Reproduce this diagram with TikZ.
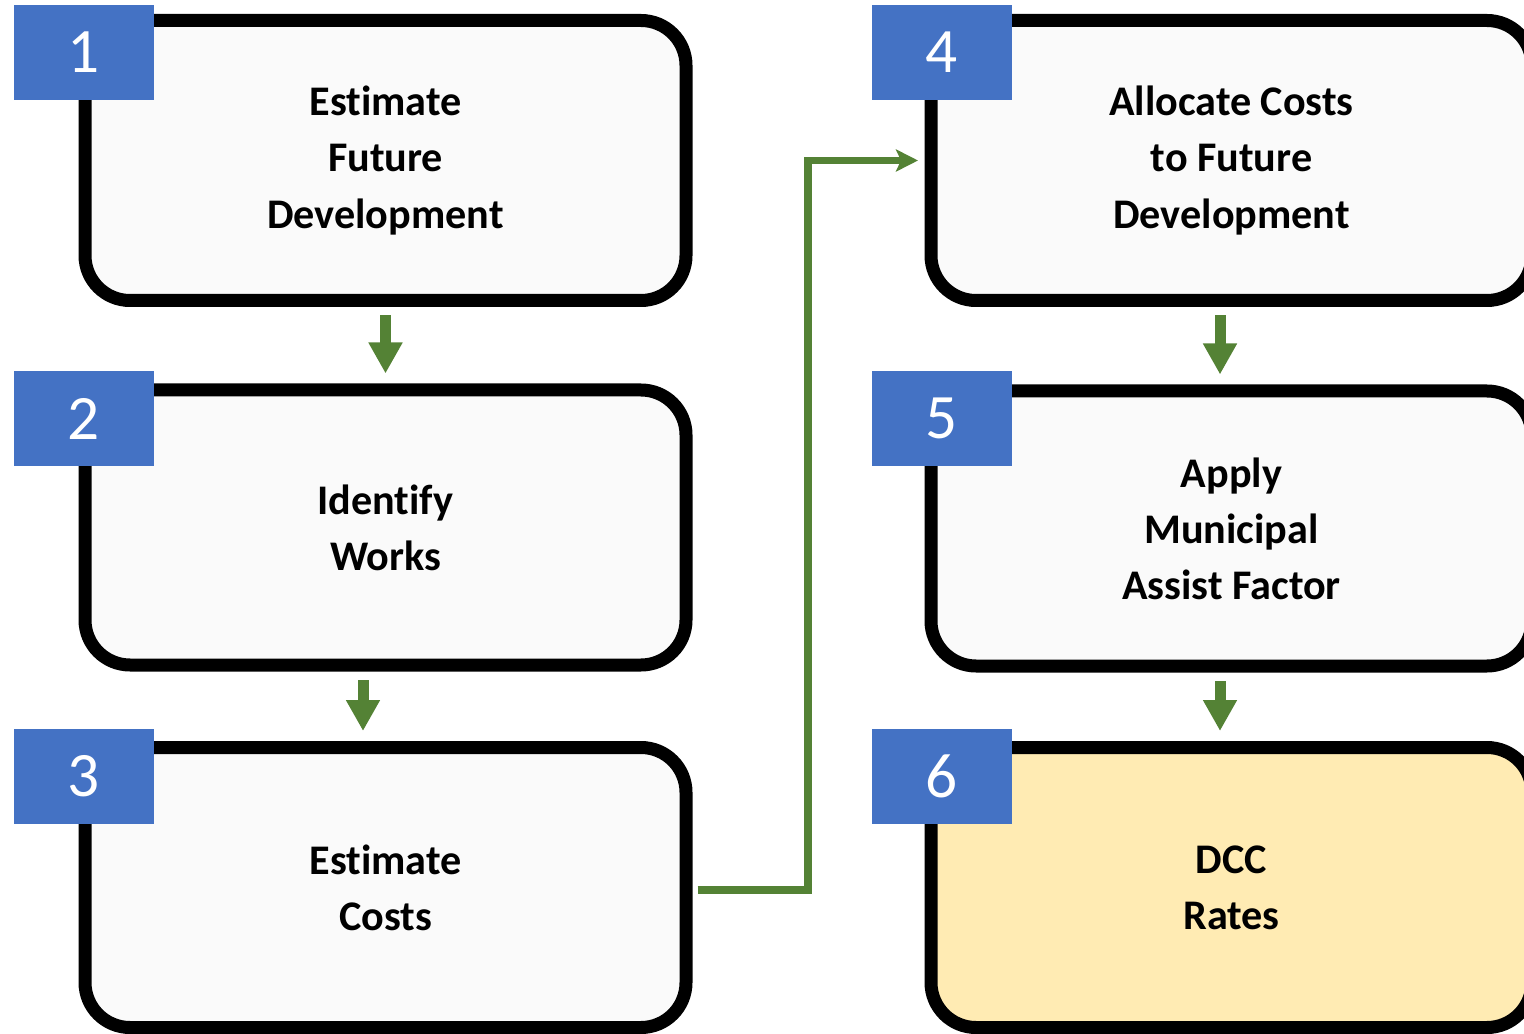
\documentclass[tikz,border=0pt]{standalone}
\usepackage{fontspec}
\setmainfont{Carlito}[RawFeature={-liga;-clig;-dlig;-calt}]
\usetikzlibrary{arrows.meta}
\definecolor{numblue}{HTML}{4472C4}
\definecolor{arrowgreen}{HTML}{548235}
\definecolor{boxgrey}{HTML}{FAFAFA}
\definecolor{resultyellow}{HTML}{FFEBB3}
\begin{document}
\begin{tikzpicture}[
    stepbox/.style={draw=black, fill=boxgrey, line width=0.26cm, rounded corners=0.9cm,
        minimum width=12.02cm, minimum height=5.6cm, align=center,
        font=\fontsize{24}{31.9}\selectfont\bfseries},
    numbox/.style={fill=numblue, text=white, minimum width=2.8cm, minimum height=1.9cm,
        inner sep=0pt, font=\fontsize{36}{40}\selectfont},
    downarrow/.style={arrowgreen, line width=0.22cm, shorten <=0.17cm, shorten >=0.2cm,
        -{Triangle[width=0.64cm,length=0.62cm]}},
    link/.style={arrowgreen, line width=0.15cm, shorten <=0.1cm, shorten >=0.13cm,
        -{Stealth[width=0.44cm,length=0.44cm,inset=0.1cm]}}
]
    \useasboundingbox (0,0) rectangle (30.48,-20.68);
    \node[stepbox] (b1) at (7.71,-3.21) {Estimate\\Future\\Development};
    \node[stepbox, minimum height=5.5cm] (b2) at (7.71,-10.55) {Identify\\Works};
    \node[stepbox] (b3) at (7.71,-17.75) {Estimate\\Costs};
    \node[stepbox] (b4) at (24.63,-3.21) {Allocate Costs\\to Future\\Development};
    \node[stepbox, minimum height=5.5cm] (b5) at (24.63,-10.57) {Apply\\Municipal\\Assist Factor};
    \node[stepbox, fill=resultyellow] (b6) at (24.63,-17.75) {DCC\\Rates};
    \node[numbox] (n1) at (1.68,-1.05) {1};
    \node[numbox] (n2) at (1.68,-8.37) {2};
    \node[numbox] (n3) at (1.68,-15.52) {3};
    \node[numbox] (n4) at (18.84,-1.05) {4};
    \node[numbox] (n5) at (18.84,-8.37) {5};
    \node[numbox] (n6) at (18.84,-15.52) {6};
    \draw[downarrow] (b1.south) -- (b2.north);
    \draw[downarrow] ([xshift=-0.45cm]b2.south) -- ([xshift=-0.45cm]b3.north);
    \draw[downarrow] ([xshift=-0.23cm]b4.south) -- ([xshift=-0.23cm]b5.north);
    \draw[downarrow] ([xshift=-0.23cm]b5.south) -- ([xshift=-0.23cm]b6.north);
    \draw[link] ([yshift=-0.05cm]b3.east) -- ++(2.31,0) |- (b4.west);
\end{tikzpicture}
\end{document}
